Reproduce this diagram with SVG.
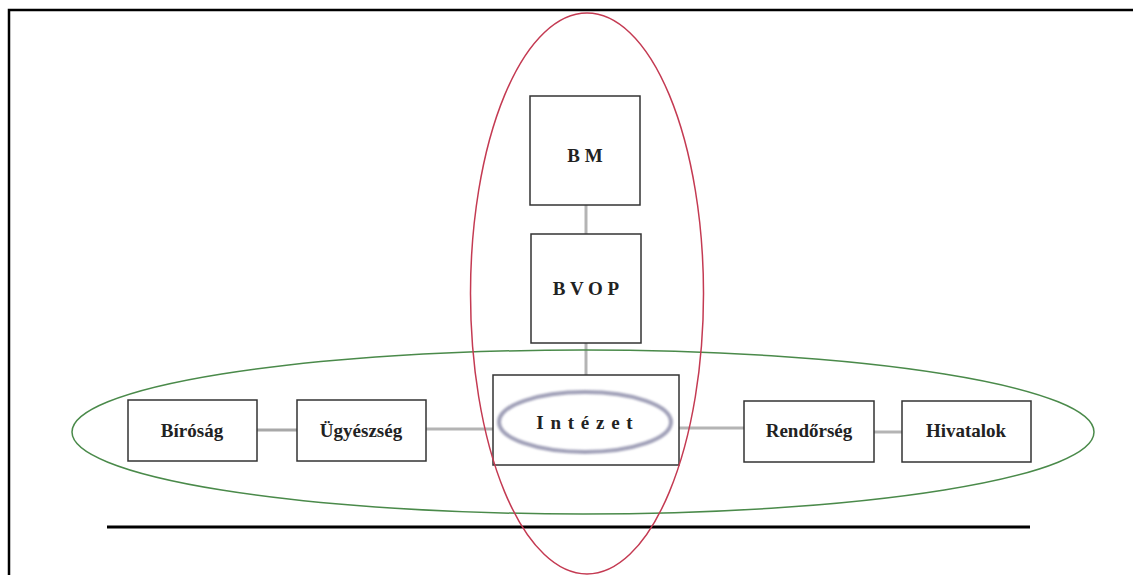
<svg xmlns="http://www.w3.org/2000/svg" width="1133" height="575" viewBox="0 0 1133 575">
<style>
.box{fill:#fff;stroke:#333;stroke-width:1.5}
.lbl{font-family:"Liberation Serif","Times New Roman",serif;font-weight:bold;font-size:19px;fill:#222;text-anchor:middle}
.con{stroke:#b4b4b4;stroke-width:3;fill:none}
</style>
<defs>
<filter id="blur" x="-20%" y="-40%" width="140%" height="180%"><feGaussianBlur stdDeviation="1.2"/></filter>
</defs>
<rect width="1133" height="575" fill="#fff"/>
<path d="M9 575 V10 H1133" fill="none" stroke="#000" stroke-width="2.5"/>
<line x1="107" y1="527" x2="1030" y2="527" stroke="#000" stroke-width="3"/>
<g id="connectors">
<line class="con" x1="586" y1="205" x2="586" y2="234"/>
<line class="con" x1="586" y1="343" x2="586" y2="375"/>
<line class="con" x1="257" y1="430" x2="297" y2="430" stroke-width="4" style="stroke:#a8a8a8"/>
<line class="con" x1="426" y1="429" x2="493" y2="429"/>
<line class="con" x1="679" y1="428" x2="744" y2="428"/>
<line class="con" x1="874" y1="432" x2="902" y2="432"/>
</g>
<g id="BM"><rect class="box" x="530" y="96" width="110" height="109"/><text class="lbl" x="585" y="162">B M</text></g>
<g id="BVOP"><rect class="box" x="531" y="234" width="110" height="109"/><text class="lbl" x="586" y="295">B V O P</text></g>
<g id="Intezet"><rect class="box" x="493" y="375" width="186" height="90"/>
<ellipse cx="585" cy="422" rx="86" ry="30" fill="none" stroke="#a0a0b8" stroke-width="4" filter="url(#blur)"/>
<text class="lbl" x="585" y="429" style="letter-spacing:1px">I n t é z e t</text></g>
<g id="Birosag"><rect class="box" x="128" y="400" width="129" height="61"/><text class="lbl" x="192" y="437">Bíróság</text></g>
<g id="Ugyeszseg"><rect class="box" x="297" y="400" width="129" height="61"/><text class="lbl" x="361" y="437">Ügyészség</text></g>
<g id="Rendorseg"><rect class="box" x="744" y="401" width="130" height="61"/><text class="lbl" x="809" y="437">Rendőrség</text></g>
<g id="Hivatalok"><rect class="box" x="902" y="401" width="129" height="61"/><text class="lbl" x="966" y="437">Hivatalok</text></g>
<ellipse id="green" cx="583" cy="432" rx="511" ry="82" fill="none" stroke="#4a8a4a" stroke-width="1.5"/>
<ellipse id="red" cx="587" cy="293.5" rx="116.5" ry="280.5" fill="none" stroke="#c43a52" stroke-width="1.5"/>
</svg>
